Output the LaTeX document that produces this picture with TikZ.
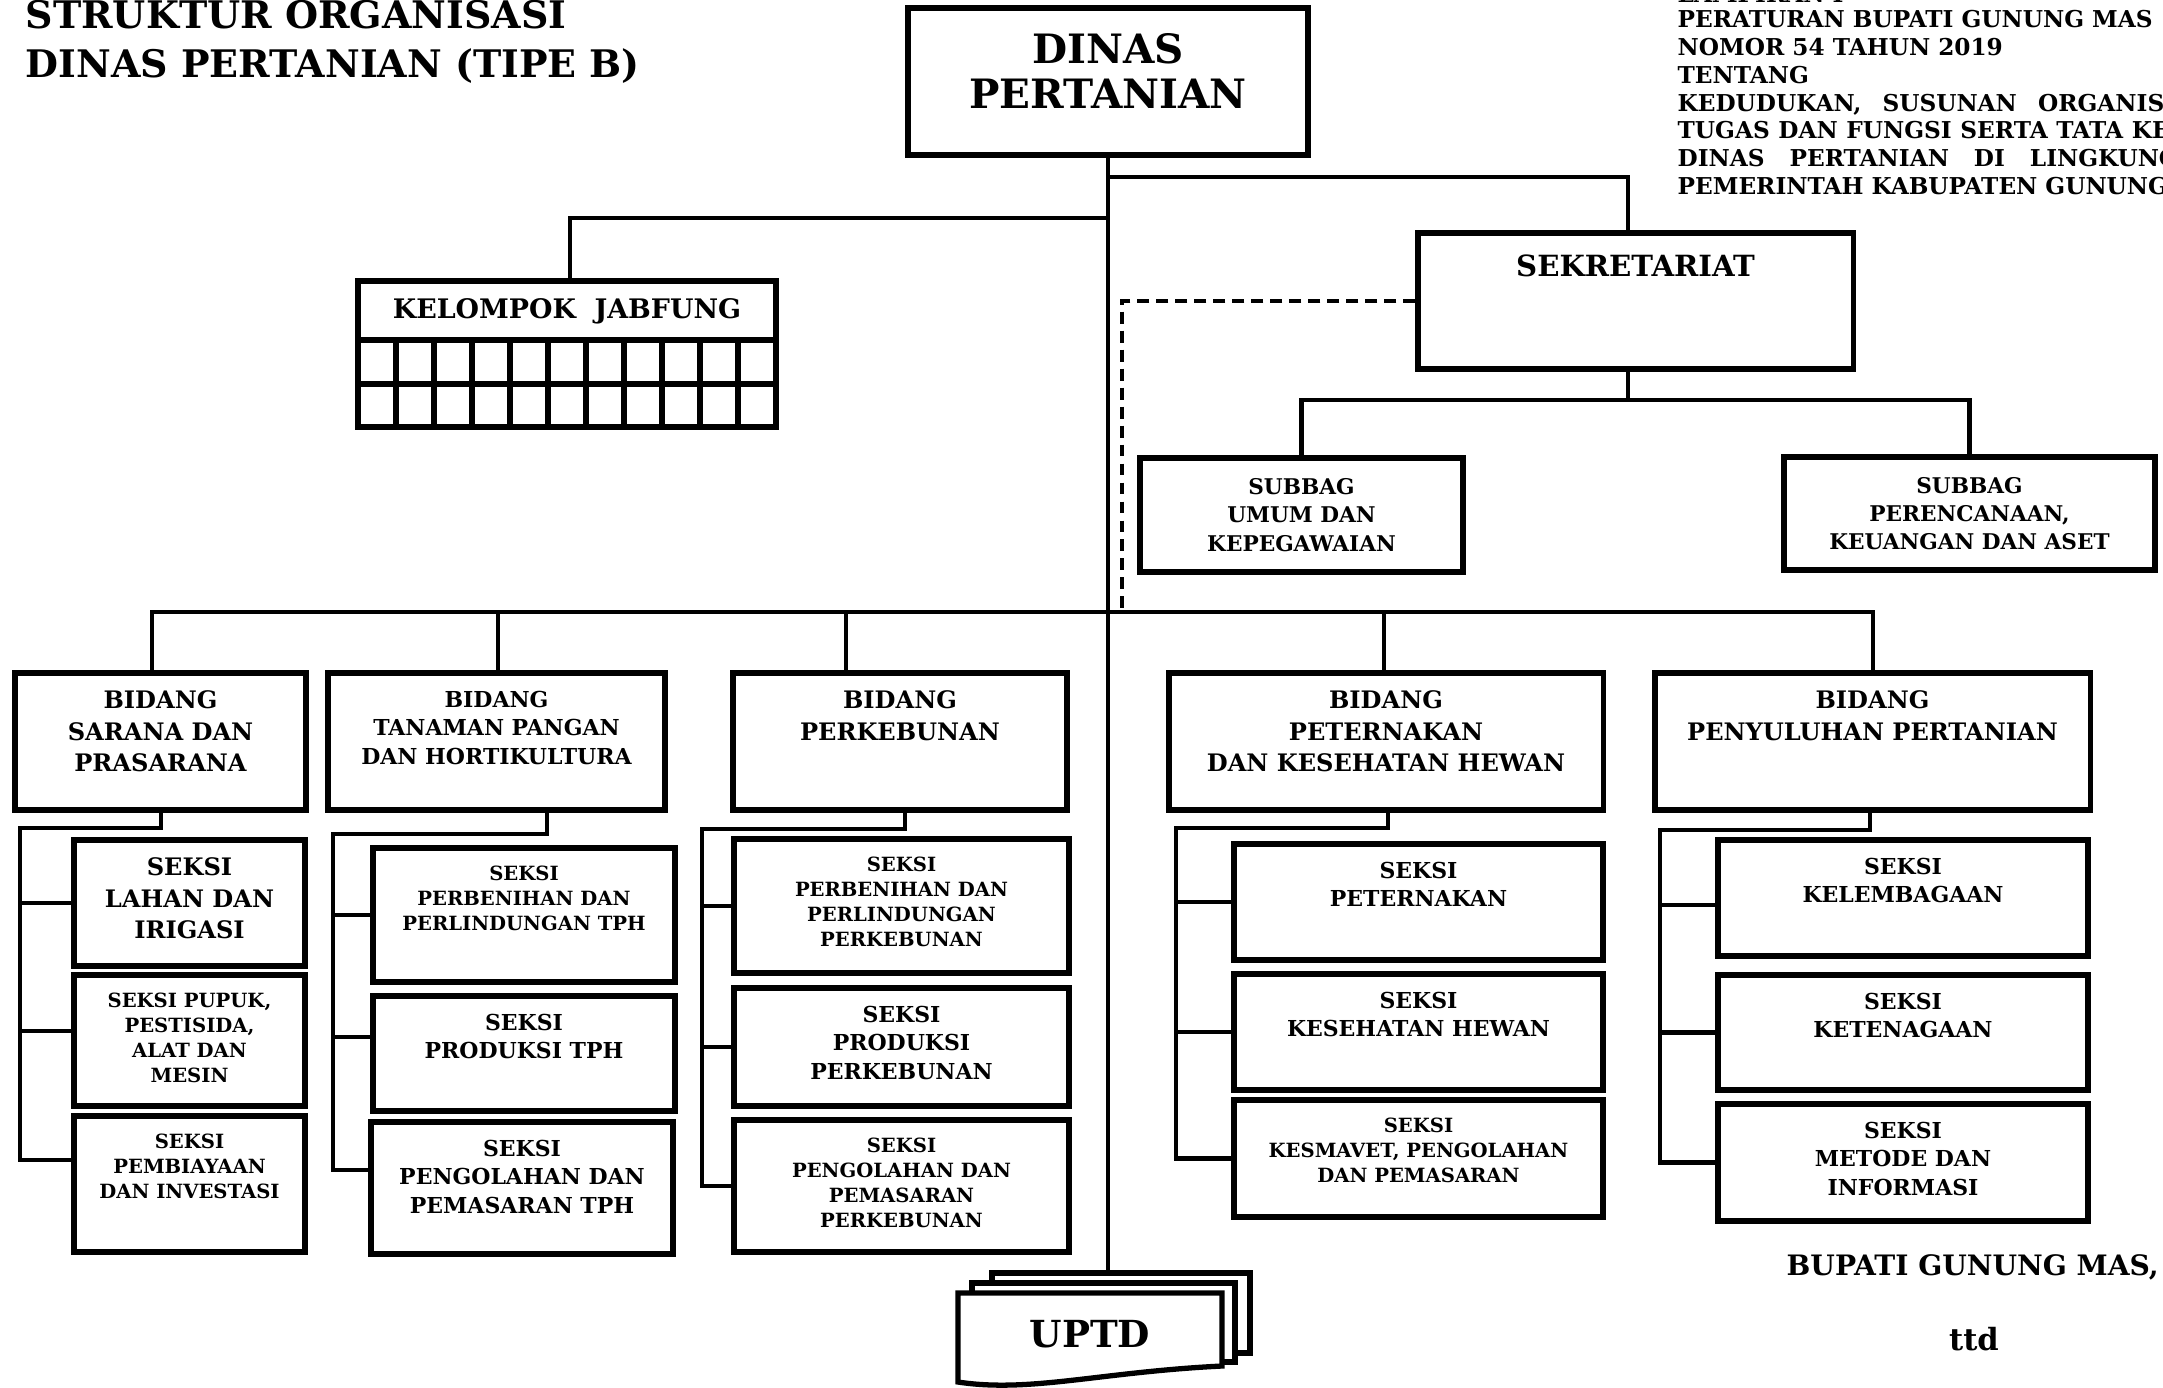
\documentclass[tikz,border=0pt]{standalone}
\usepackage{fontspec}
\setmainfont{DejaVu Serif}
\begin{document}
\begin{tikzpicture}[x=0.01cm, y=-0.01cm,
    box/.style={draw, line width=1.5pt, inner sep=0pt},
    link/.style={line width=1.2pt, line cap=rect},
    dsh/.style={line width=0.9pt, dash pattern=on 3.4pt off 2pt},
    ttl/.style={inner sep=0pt, font=\bfseries\fontsize{10.8}{14.5}\selectfont},
    hdr/.style={inner sep=0pt, align=left, font=\bfseries\fontsize{6.6}{7.88}\selectfont},
    big/.style={inner sep=0pt, align=center, font=\bfseries\fontsize{6.85}{8.9}\selectfont},
    mid/.style={inner sep=0pt, align=center, font=\bfseries\fontsize{6.25}{8.1}\selectfont},
    sml/.style={inner sep=0pt, align=center, font=\bfseries\fontsize{5.57}{7.1}\selectfont}]
    \useasboundingbox (0,0) rectangle (2163,1387);

    \node (t1) at (25,28) [anchor=base west, ttl] {STRUKTUR ORGANISASI};
    \node (t2) at (25,77) [anchor=base west, ttl] {DINAS PERTANIAN (TIPE B)};

    \node (lp) at (1677,2) [anchor=base west, hdr] {LAMPIRAN I};
    \node (hd) at (1677,10) [anchor=north west, hdr] {PERATURAN BUPATI GUNUNG MAS\\NOMOR 54 TAHUN 2019\\TENTANG\\
        \makebox[5.4cm][s]{KEDUDUKAN, SUSUNAN ORGANISASI,}\\
        \makebox[5.4cm][s]{TUGAS DAN FUNGSI SERTA TATA KERJA}\\
        \makebox[5.4cm][s]{DINAS PERTANIAN DI LINGKUNGAN}\\
        PEMERINTAH KABUPATEN GUNUNG MAS};

    \node (dp) at (1108,81.5) [box, minimum width=4cm, minimum height=1.47cm,
        label={[inner sep=0pt, align=center, font=\bfseries\fontsize{11.5}{13}\selectfont, anchor=north, yshift=-0.27cm]north:{DINAS\\PERTANIAN}}] {};

    \node (jf) at (567,354) [box, minimum width=4.18cm, minimum height=1.46cm] {};
    \node (jt) at (567,311) [inner sep=0pt, font=\bfseries\fontsize{7.65}{10}\selectfont] {KELOMPOK\ \ JABFUNG};
    \draw[box] (358,340) -- (776,340) (358,384) -- (776,384);
    \foreach \i in {1,...,10} \draw[box] (358+38*\i,340) -- (358+38*\i,427);

    \node (sk) at (1635.5,301) [box, minimum width=4.35cm, minimum height=1.36cm,
        label={[inner sep=0pt, font=\bfseries\fontsize{8.3}{11}\selectfont, anchor=north, yshift=-0.24cm]north:SEKRETARIAT}] {};
    \node (su) at (1301.5,515) [box, minimum width=3.23cm, minimum height=1.14cm, align=center,
        font=\bfseries\fontsize{6.15}{8}\selectfont] {SUBBAG\\UMUM DAN\\KEPEGAWAIAN};
    \node (sp) at (1969.5,513.5) [box, minimum width=3.71cm, minimum height=1.13cm, align=center,
        font=\bfseries\fontsize{6.15}{8}\selectfont] {SUBBAG\\PERENCANAAN,\\KEUANGAN DAN ASET};

    \node (b1) at (160.5,741.5) [box, minimum width=2.91cm, minimum height=1.37cm,
        label={[big, anchor=north, yshift=-0.2cm]north:{BIDANG\\SARANA DAN\\PRASARANA}}] {};
    \node (b2) at (496.5,741.5) [box, minimum width=3.37cm, minimum height=1.37cm,
        label={[mid, anchor=north, yshift=-0.2cm]north:{BIDANG\\TANAMAN PANGAN\\DAN HORTIKULTURA}}] {};
    \node (b3) at (900,741.5) [box, minimum width=3.34cm, minimum height=1.37cm,
        label={[big, anchor=north, yshift=-0.2cm]north:{BIDANG\\PERKEBUNAN}}] {};
    \node (b4) at (1386,741.5) [box, minimum width=4.34cm, minimum height=1.37cm,
        label={[big, anchor=north, yshift=-0.2cm]north:{BIDANG\\PETERNAKAN\\DAN KESEHATAN HEWAN}}] {};
    \node (b5) at (1872.5,741.5) [box, minimum width=4.35cm, minimum height=1.37cm,
        label={[big, anchor=north, yshift=-0.2cm]north:{BIDANG\\PENYULUHAN PERTANIAN}}] {};

    \node (s11) at (189.5,903) [box, minimum width=2.31cm, minimum height=1.26cm,
        label={[big, anchor=north, yshift=-0.2cm]north:{SEKSI\\LAHAN DAN\\IRIGASI}}] {};
    \node (s12) at (189.5,1040.5) [box, minimum width=2.31cm, minimum height=1.31cm,
        label={[sml, anchor=north, yshift=-0.2cm]north:{SEKSI PUPUK,\\PESTISIDA,\\ALAT DAN\\MESIN}}] {};
    \node (s13) at (189.5,1184) [box, minimum width=2.31cm, minimum height=1.36cm,
        label={[sml, anchor=north, yshift=-0.2cm]north:{SEKSI\\PEMBIAYAAN\\DAN INVESTASI}}] {};

    \node (s21) at (524,915) [box, minimum width=3.02cm, minimum height=1.34cm,
        label={[sml, anchor=north, yshift=-0.2cm]north:{SEKSI\\PERBENIHAN DAN\\PERLINDUNGAN TPH}}] {};
    \node (s22) at (524,1053.5) [box, minimum width=3.02cm, minimum height=1.15cm,
        label={[mid, anchor=north, yshift=-0.2cm]north:{SEKSI\\PRODUKSI TPH}}] {};
    \node (s23) at (522,1188) [box, minimum width=3.02cm, minimum height=1.32cm,
        label={[mid, anchor=north, yshift=-0.2cm]north:{SEKSI\\PENGOLAHAN DAN\\PEMASARAN TPH}}] {};

    \node (s31) at (901.5,906) [box, minimum width=3.35cm, minimum height=1.34cm,
        label={[sml, anchor=north, yshift=-0.2cm]north:{SEKSI\\PERBENIHAN DAN\\PERLINDUNGAN\\PERKEBUNAN}}] {};
    \node (s32) at (901.5,1047) [box, minimum width=3.35cm, minimum height=1.18cm,
        label={[mid, anchor=north, yshift=-0.2cm]north:{SEKSI\\PRODUKSI\\PERKEBUNAN}}] {};
    \node (s33) at (901.5,1186) [box, minimum width=3.35cm, minimum height=1.32cm,
        label={[sml, anchor=north, yshift=-0.2cm]north:{SEKSI\\PENGOLAHAN DAN\\PEMASARAN\\PERKEBUNAN}}] {};

    \node (s41) at (1418.5,902) [box, minimum width=3.69cm, minimum height=1.16cm,
        label={[mid, anchor=north, yshift=-0.2cm]north:{SEKSI\\PETERNAKAN}}] {};
    \node (s42) at (1418.5,1032) [box, minimum width=3.69cm, minimum height=1.16cm,
        label={[mid, anchor=north, yshift=-0.2cm]north:{SEKSI\\KESEHATAN HEWAN}}] {};
    \node (s43) at (1418.5,1158.5) [box, minimum width=3.69cm, minimum height=1.17cm,
        label={[sml, anchor=north, yshift=-0.2cm]north:{SEKSI\\KESMAVET, PENGOLAHAN\\DAN PEMASARAN}}] {};

    \node (s51) at (1903,898) [box, minimum width=3.70cm, minimum height=1.16cm,
        label={[mid, anchor=north, yshift=-0.2cm]north:{SEKSI\\KELEMBAGAAN}}] {};
    \node (s52) at (1903,1032.5) [box, minimum width=3.70cm, minimum height=1.15cm,
        label={[mid, anchor=north, yshift=-0.2cm]north:{SEKSI\\KETENAGAAN}}] {};
    \node (s53) at (1903,1162.5) [box, minimum width=3.70cm, minimum height=1.17cm,
        label={[mid, anchor=north, yshift=-0.2cm]north:{SEKSI\\METODE DAN\\INFORMASI}}] {};

    \coordinate (j1) at (1628,177);
    \coordinate (j2) at (570,218);
    \coordinate (j4) at (1628,400);
    \coordinate (d1) at (1122,612);
    \coordinate (upt) at (1108,1273);
    \draw[link] (dp.south) -- (upt);
    \draw[link] (dp.south |- j1) -- (j1) -- (j1 |- sk.north);
    \draw[link] (dp.south |- j2) -- (j2) -- (j2 |- jf.north);
    \draw[dsh] (sk.west) -| (d1);
    \draw[link] (j4 |- sk.south) -- (j4);
    \draw[link] (su.north) |- (j4) -| (sp.north);

    \coordinate (h1) at (152,612);
    \coordinate (h2) at (498,612);
    \coordinate (h3) at (846,612);
    \coordinate (h4) at (1384,612);
    \coordinate (h5) at (1873,612);
    \draw[link] (h1) -- (h5);
    \foreach \n in {1,...,5} \draw[link] (h\n) -- (h\n |- b\n.north);

    \coordinate (c1) at (161,828);  \coordinate (r1) at (20,828);
    \coordinate (c2) at (547,834);  \coordinate (r2) at (333,834);
    \coordinate (c3) at (905,829);  \coordinate (r3) at (702,829);
    \coordinate (c4) at (1388,828); \coordinate (r4) at (1176,828);
    \coordinate (c5) at (1870,830); \coordinate (r5) at (1660,830);
    \foreach \n in {1,...,5} \draw[link] (c\n |- b\n.south) -- (c\n) -- (r\n);
    \foreach \s/\r/\d in {s11/r1/0, s12/r1/0.095, s13/r1/0.24, s21/r2/0, s22/r2/0.165, s23/r2/0.18,
        s31/r3/0, s32/r3/0, s33/r3/0, s41/r4/0, s42/r4/0, s43/r4/0, s51/r5/-0.07, s52/r5/0, s53/r5/0}
        \draw[link] ([yshift=\d cm]\s.west) -| (\r);

    \draw[line width=1.5pt, fill=white] (992,1273) rectangle (1250,1353);
    \draw[line width=1.5pt, fill=white] (972,1283) rectangle (1235,1362);
    \draw[line width=1.5pt, fill=white] (958,1293) -- (1222,1293) -- (1222,1366)
        .. controls (1100,1372) and (1030,1393) .. (958,1382) -- cycle;
    \node (up) at (1090,1334) [inner sep=0pt, font=\bfseries\fontsize{10.6}{13}\selectfont] {UPTD};

    \node (bp) at (1786,1275) [anchor=base west, inner sep=0pt, font=\bfseries\fontsize{8}{11}\selectfont] {BUPATI GUNUNG MAS,};
    \node (td) at (1974,1350) [anchor=base, inner sep=0pt, font=\bfseries\fontsize{8.7}{11}\selectfont] {ttd};
\end{tikzpicture}
\end{document}
